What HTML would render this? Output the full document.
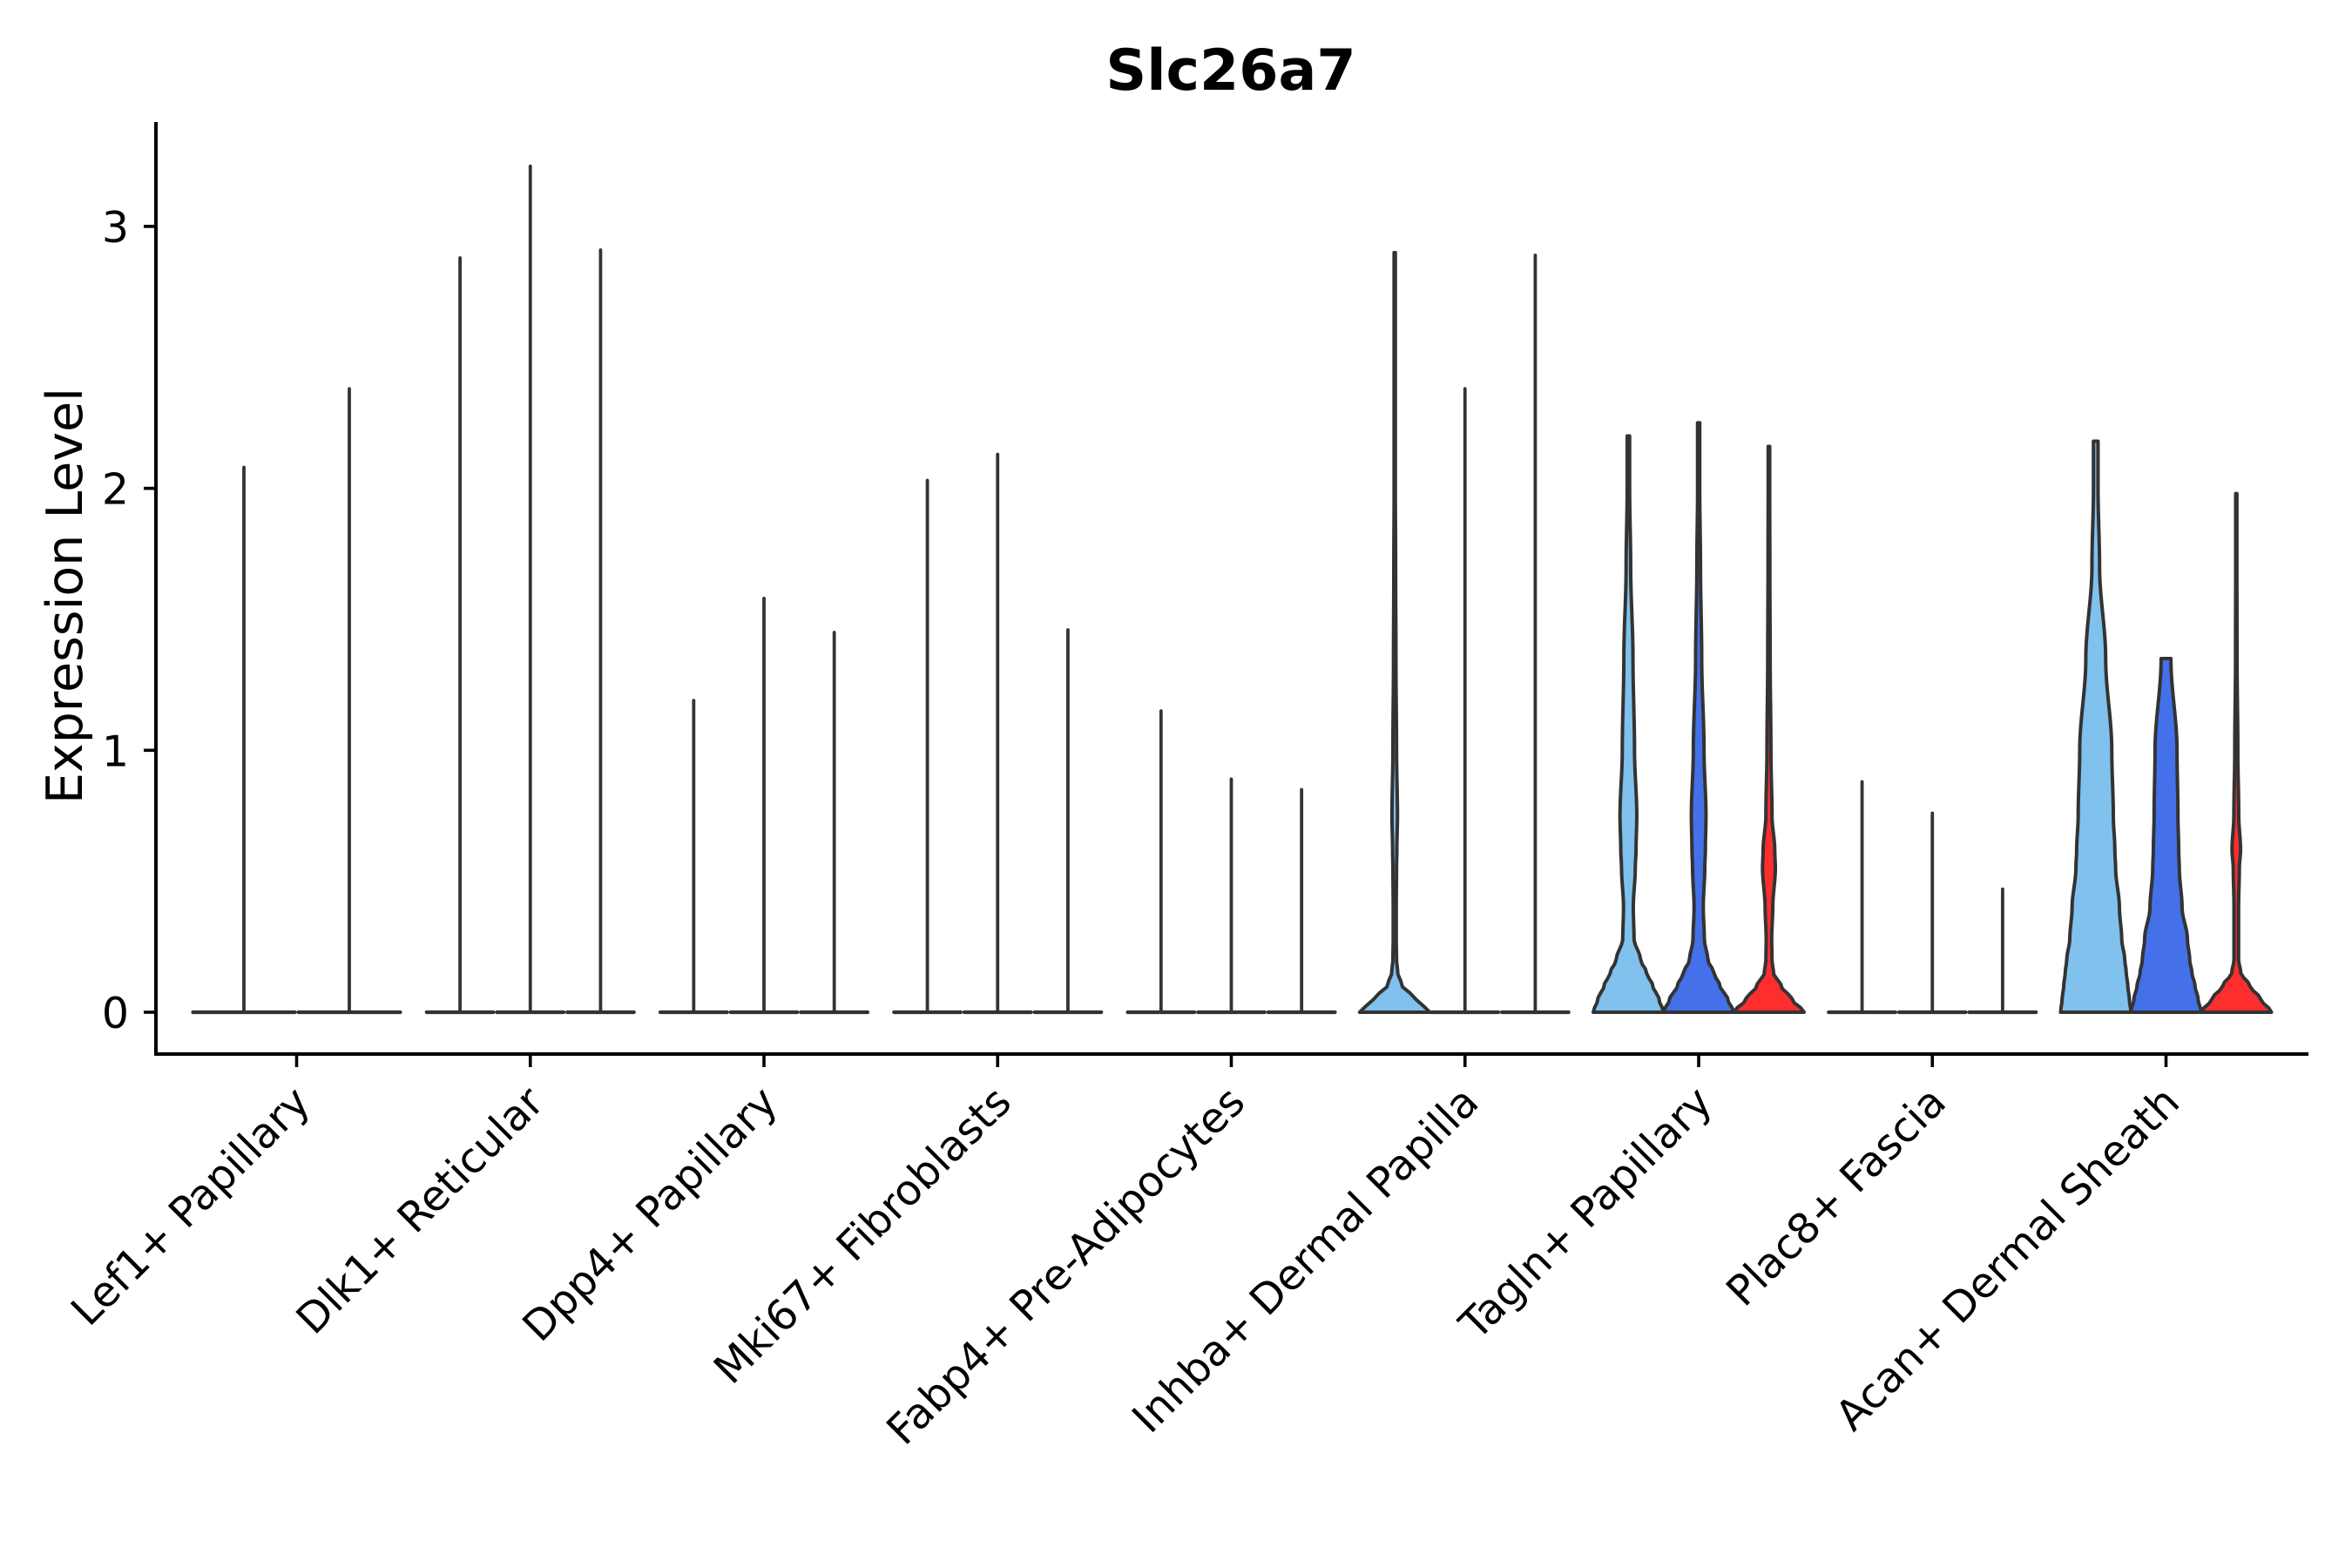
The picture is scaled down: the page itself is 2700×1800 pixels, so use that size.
<!DOCTYPE html>
<html><head><meta charset="utf-8"><title>Slc26a7 violin</title>
<style>html,body{margin:0;padding:0;background:#fff}svg{display:block}</style></head>
<body>
<svg id="chart" xmlns="http://www.w3.org/2000/svg" width="2700" height="1800" viewBox="0 0 2700 1800" font-family="'DejaVu Sans','Liberation Sans',sans-serif">
<rect x="0" y="0" width="2700" height="1800" fill="#fff"/>
<text x="1413" y="103" text-anchor="middle" font-size="65" font-weight="bold" fill="#000">Slc26a7</text>
<text transform="translate(94,684) rotate(-90)" text-anchor="middle" font-size="57" fill="#000">Expression Level</text>
<g id="marks"></g>
<g id="axes"></g>
</svg>
<script>
const categories = ["Lef1+ Papillary","Dlk1+ Reticular","Dpp4+ Papillary","Mki67+ Fibroblasts","Fabp4+ Pre-Adipocytes","Inhba+ Dermal Papilla","Tagln+ Papillary","Plac8+ Fascia","Acan+ Dermal Sheath"];
const maxValues = [[2.08,2.38],[2.88,3.23,2.91],[1.19,1.58,1.45],[2.03,2.13,1.46],[1.15,0.89,0.85],[2.90,2.38,2.89],[2.20,2.25,2.16],[0.88,0.76,0.47],[2.18,1.35,1.98]];
const yTicks = [0,1,2,3];
const densityLevels = [0,0.05,0.1,0.15,0.2,0.28,0.4,0.55,0.62,0.75,1.0,1.35,1.7,2.0];
// relative density (widest point = 23) at each density level; absent = flat spike only
const densities = {
 "5-0":[23,14,5,2,1.2,1,1,1.2,1.4,1.8,1.2,0.8,0.6,0.4],
 "6-0":[23,20,16,12,8,3.7,3.2,4.5,5,5.5,4,3,1.5,0.8],
 "6-1":[23,19,14,10,6,3.7,3,4,4.4,4.8,3.5,2,1.2,0.7],
 "6-2":[23,15,8,3,2,1.8,2.5,4.2,3.8,2,1.3,0.8,0.6,0.5],
 "8-0":[23,22,21,20,19,17,15.5,13,12.5,11.5,10.5,6.5,2.5,1.5],
 "8-1":[23,21,19,17,15.5,14,10.5,8.7,8.3,7.8,7.2,3.2,3.2,3.2],
 "8-2":[23,16,9,3,1.5,1.5,1.5,2,2.8,1.6,1,0.5,0.4,0.4]
};
const densityMax = 23;
const colors = ["#80C1EE","#4470EA","#FF2E2E"];
const NS="http://www.w3.org/2000/svg";
const x0=179, xEnd=2650, yAxisTop=140, yAxisBottom=1210;
function yScale(v){return 1162 - v*300.7;}
function xCenter(i){return 340.5 + i*268.25;}
const groupWidth=242;
function interp(d,v){
  for(let k=0;k<densityLevels.length-1;k++){
    if(v<=densityLevels[k+1]){const t=(v-densityLevels[k])/(densityLevels[k+1]-densityLevels[k]);const s=t*t*(3-2*t);return d[k]+(d[k+1]-d[k])*s;}
  }
  return d[d.length-1];
}
function mk(tag,attrs,parent){const e=document.createElementNS(NS,tag);for(const k in attrs)e.setAttribute(k,attrs[k]);parent.appendChild(e);return e;}
const marks=document.getElementById('marks');
const axes=document.getElementById('axes');
categories.forEach((cat,i)=>{
  const n=maxValues[i].length, sw=groupWidth/n, left=xCenter(i)-groupWidth/2;
  const g=mk('g',{},marks);
  
  
  maxValues[i].forEach((mx,j)=>{
    const cx=left+sw*(j+0.5), hw=sw/2;
    const d=densities[i+'-'+j];
    if(d){
      const pts=[];
      const steps=120;
      for(let s=0;s<=steps;s++){const v=mx*s/steps;pts.push([v,Math.max(interp(d,v)/densityMax*hw,0.5)]);}
      let path='M'+(cx-pts[0][1]).toFixed(2)+','+yScale(0).toFixed(2);
      pts.forEach(p=>{path+=' L'+(cx-p[1]).toFixed(2)+','+yScale(p[0]).toFixed(2);});
      for(let k=pts.length-1;k>=0;k--){path+=' L'+(cx+pts[k][1]).toFixed(2)+','+yScale(pts[k][0]).toFixed(2);}
      path+=' Z';
      const v=mk('path',{d:path,fill:colors[j%3],stroke:'#333','stroke-width':4,'stroke-linejoin':'round'},g);
      
      
    } else {
      const base=mk('line',{x1:cx-hw+2,x2:cx+hw-2,y1:yScale(0),y2:yScale(0),stroke:'#333','stroke-width':4.2,'stroke-linecap':'round'},g);
      
      
      const sp=mk('line',{x1:cx,x2:cx,y1:yScale(0),y2:yScale(mx),stroke:'#333','stroke-width':3.8,'stroke-linecap':'round'},g);
      
      
    }
  });
  const t=mk('line',{x1:xCenter(i),x2:xCenter(i),y1:yAxisBottom,y2:yAxisBottom+15,stroke:'#000','stroke-width':3.6},axes);
  
  
  const lbl=mk('text',{transform:'translate('+(xCenter(i)+18)+','+(yAxisBottom+58)+') rotate(-45)','text-anchor':'end','font-size':'48',fill:'#000'},axes);
  lbl.textContent=cat;
  
  
});
const ya=mk('line',{x1:x0,x2:x0,y1:yAxisTop,y2:yAxisBottom+2,stroke:'#000','stroke-width':4}, axes);


const xa=mk('line',{x1:x0-2,x2:xEnd,y1:yAxisBottom,y2:yAxisBottom,stroke:'#000','stroke-width':4},axes);


yTicks.forEach(v=>{
  const t=mk('line',{x1:x0-14,x2:x0,y1:yScale(v),y2:yScale(v),stroke:'#000','stroke-width':3.6},axes);
  
  
  const l=mk('text',{x:148,y:yScale(v)+18,'text-anchor':'end','font-size':'49',fill:'#000'},axes);
  l.textContent=String(v);
  
  
});
</script>
</body></html>
